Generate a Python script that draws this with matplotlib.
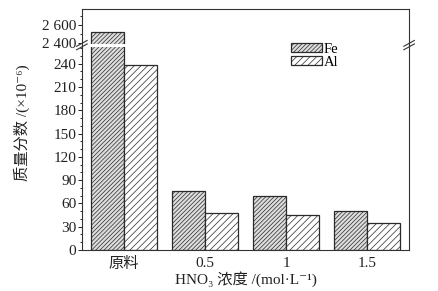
import matplotlib
matplotlib.use("Agg")
import matplotlib.pyplot as plt
import numpy as np
from matplotlib.ticker import MultipleLocator

categories = ["原料", "0.5", "1", "1.5"]
fe = [2520, 76, 69, 50]
al = [239, 48, 45, 35]
series_names = ["Fe", "Al"]

plt.rcParams['font.family'] = ['Liberation Serif', 'DejaVu Serif', 'Noto Sans CJK SC']
plt.rcParams['hatch.linewidth'] = 0.5

fig = plt.figure(figsize=(4.38, 2.91), dpi=100)
L, R = 0.187, 0.934
B, BRK, T = 0.141, 0.845, 0.969
ax = fig.add_axes([L, B, R - L, BRK - B])
axu = fig.add_axes([L, BRK, R - L, T - BRK], sharex=ax)

x = np.arange(len(categories))
w = 0.41
plt.rcParams['hatch.color'] = '#777777'
for a in (ax, axu):
    a.bar(x - w / 2, fe, w, facecolor='#dddddd', edgecolor='#2a2a2a', hatch='////////', linewidth=0.9, label=series_names[0])
    a.bar(x + w / 2, al, w, facecolor='white', edgecolor='#2a2a2a', hatch='/////', linewidth=0.9, label=series_names[1])

ax.set_ylim(0, 264)
axu.set_ylim(2378, 2778)
ax.set_xlim(-0.52, 3.52)
ax.yaxis.set_major_locator(MultipleLocator(30))
ax.yaxis.set_minor_locator(MultipleLocator(10))
axu.set_yticks([2400, 2600])
axu.set_yticklabels(["2 400", "2 600"])
axu.yaxis.set_minor_locator(MultipleLocator(100))

ax.spines['top'].set_visible(False)
axu.spines['bottom'].set_visible(False)
axu.tick_params(axis='x', which='both', bottom=False, labelbottom=False)
for a in (ax, axu):
    for s in a.spines.values():
        s.set_color('#333333')
        s.set_linewidth(0.8)
    a.tick_params(axis='y', which='major', direction='out', length=3, width=0.7, labelsize=11, pad=1, colors='#222222')
    a.tick_params(axis='y', which='minor', direction='out', length=1.8, width=0.6)

ax.tick_params(axis='x', length=0, labelsize=11, pad=5, colors='#222222')
ax.set_xticks(x)
ax.set_xticklabels(categories)

# white gap across the break (only over the first group)
gap = fig.add_axes([L + 0.003, BRK - 0.008, 0.2, 0.012])
gap.set_facecolor('white')
gap.set_xticks([]); gap.set_yticks([])
for s in gap.spines.values():
    s.set_visible(False)

# break marks
for xf in (L, R):
    for dy in (-0.006, 0.006):
        fig.add_artist(plt.Line2D([xf - 0.012, xf + 0.012], [BRK + dy - 0.01, BRK + dy + 0.01],
                                  color='#333333', lw=0.8, transform=fig.transFigure))

ax.set_ylabel("质量分数 /(×10⁻⁶)", fontsize=11, labelpad=4, color='#222222')
ax.yaxis.set_label_coords(-0.16, 0.62)
ax.set_xlabel("HNO₃ 浓度 /(mol·L⁻¹)", fontsize=11, labelpad=0, color='#222222')

handles, labels = ax.get_legend_handles_labels()
fig.legend(handles, labels, loc='upper left', bbox_to_anchor=(0.648, 0.878), frameon=False, fontsize=10.5,
           handlelength=2.1, handleheight=0.5, handletextpad=0.15, labelspacing=0.0, borderpad=0)

fig.savefig("out.png", dpi=100)
